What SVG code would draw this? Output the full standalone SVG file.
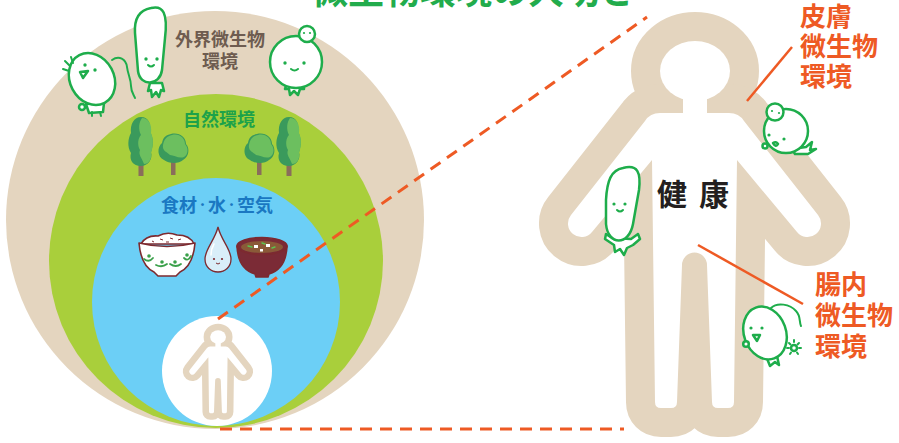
<svg xmlns="http://www.w3.org/2000/svg" xmlns:xlink="http://www.w3.org/1999/xlink" width="899" height="443" viewBox="0 0 899 443">
  <style>
    .jp { font-family: "Noto Sans CJK JP", "Noto Sans CJK SC", sans-serif; font-weight: 700; }
    .title { font-size: 36px; fill: #22ac4c; }
    .ring-label { font-size: 18px; }
    .side-label { font-size: 26px; fill: #ee5a24; }
    .dash { fill: none; stroke: #ee5a24; stroke-width: 3; stroke-dasharray: 12 8; }
    .lead { fill: none; stroke: #ee5a24; stroke-width: 2.5; }
    .mic { fill: #fff; stroke: #1ead4b; stroke-width: 2.5; stroke-linejoin: round; stroke-linecap: round; }
    .mic-line { fill: none; stroke: #1ead4b; stroke-width: 2; stroke-linecap: round; }
    .eye { fill: #1ead4b; }
    .dark { fill: #3a9a5c; }
    .light { fill: #6cbf5f; }
    .trunk { fill: #8a6d5b; }
    .bowl { stroke: #7d2a2f; stroke-width: 1.6; stroke-linejoin: round; }
  </style>

  <defs>
    <!-- inner silhouette of the person: head, neck, torso with arms and legs -->
    <g id="person-parts">
      <ellipse cx="695" cy="71" rx="35" ry="30"/>
      <rect x="683" y="95" width="24" height="22"/>
      <path d="M 683,113 L 660,113 Q 650,113 645,121 L 571,215 A 13.5 13.5 0 0 0 592,232 L 652,160
               L 655,402 Q 655,408 661,408 L 671,408 Q 677,408 677,402
               L 682,265 A 12.5 12.5 0 0 1 707,265
               L 712,402 Q 712,408 718,408 L 728,408 Q 734,408 734,402
               L 737,160 L 797,232 A 13.5 13.5 0 0 0 818,215 L 744,121 Q 739,113 729,113 L 707,113 Z"/>
    </g>
    <g id="person">
      <use xlink:href="#person-parts" href="#person-parts" fill="#e4d5bf" stroke="#e4d5bf" stroke-width="58" stroke-linejoin="round"/>
      <use xlink:href="#person-parts" href="#person-parts" fill="#ffffff"/>
    </g>
    <!-- tree shapes -->
    <g id="tall-tree">
      <rect class="trunk" x="-2.5" y="20" width="5" height="14"/>
      <path class="dark" d="M 0,-25 C 8,-25 10,-18 9,-10 C 13,-4 12,5 10,10 C 12,17 7,24 0,24 C -8,24 -12,18 -10,11 C -14,5 -13,-4 -10,-9 C -11,-18 -7,-25 0,-25 Z"/>
      <path class="light" d="M 1,-24 C 8,-24 11,-17 10,-9 C 13,-3 12,6 10,11 C 11,17 8,22 3,22 C 1,16 -3,13 -1,8 C -4,3 -3,-4 0,-7 C -3,-13 -2,-20 1,-24 Z"/>
    </g>
    <g id="round-tree">
      <rect class="trunk" x="-2" y="10" width="4.5" height="16"/>
      <path class="dark" d="M -2,-15 C 6,-17 13,-12 13,-5 C 17,-1 16,8 10,11 C 6,15 -4,15 -9,11 C -16,8 -16,-2 -11,-6 C -10,-12 -7,-14 -2,-15 Z"/>
      <path class="light" d="M -1,-14 C 6,-16 12,-11 12,-5 C 16,-1 15,6 11,8 C 6,10 1,6 -3,6 C -6,3 -11,2 -10,-4 C -9,-10 -6,-13 -1,-14 Z"/>
    </g>
  </defs>

  <!-- title -->
  <g id="title">
    <text class="jp title" x="312" y="4">微生物環境の大切さ</text>
  </g>

  <!-- nested environments -->
  <g id="outer-environment">
    <circle cx="215" cy="220" r="209" fill="#e4d5bf"/>
    <text class="jp ring-label" fill="#6e5c50" text-anchor="middle" x="220" y="46">外界微生物</text>
    <text class="jp ring-label" fill="#6e5c50" text-anchor="middle" x="220" y="68">環境</text>
  </g>
  <g id="natural-environment">
    <circle cx="216" cy="261" r="167" fill="#a9cf3b"/>
    <text class="jp ring-label" fill="#1da24a" text-anchor="middle" x="219" y="126">自然環境</text>
    <use xlink:href="#tall-tree" href="#tall-tree" x="141" y="142"/>
    <use xlink:href="#round-tree" href="#round-tree" x="173" y="149"/>
    <use xlink:href="#round-tree" href="#round-tree" x="259" y="149"/>
    <use xlink:href="#tall-tree" href="#tall-tree" x="289" y="142"/>
  </g>
  <g id="food-water-air">
    <circle cx="216" cy="302" r="124" fill="#6ccff6"/>
    <text class="jp ring-label" fill="#1a78c2" text-anchor="middle" x="217" y="212">食材<tspan font-size="11" dy="-3">・</tspan><tspan dy="3">水</tspan><tspan font-size="11" dy="-3">・</tspan><tspan dy="3">空気</tspan></text>
  </g>

  <!-- rice bowl -->
  <g id="rice-bowl">
    <path class="bowl" fill="#ffffff" d="M 141,244 Q 146,235 158,236 Q 167,231 177,235 Q 190,235 194,244 Z"/>
    <path class="bowl" fill="#ffffff" d="M 139,243 Q 167,250 195,243 Q 193,266 180,272 L 176,276 L 158,276 L 154,272 Q 141,266 139,243 Z"/>
    <path fill="none" stroke="#7d2a2f" stroke-width="1" d="M 160,239 l 3,1 M 170,238 l 3,1 M 178,240 l 3,-1 M 152,241 l 2,1 M 166,242 l 3,0"/>
    <g fill="none" stroke="#3aa04a" stroke-width="1.8" stroke-linecap="round">
      <path d="M 144,259 Q 149,263 153,258"/>
      <path d="M 156,265 Q 162,268 167,264"/>
      <path d="M 170,264 Q 176,268 181,264"/>
      <path d="M 184,258 Q 188,262 191,256"/>
    </g>
    <g fill="#3aa04a">
      <circle cx="149" cy="256" r="1.8"/>
      <circle cx="162" cy="262" r="1.8"/>
      <circle cx="175" cy="262" r="1.8"/>
      <circle cx="187" cy="255" r="1.8"/>
    </g>
  </g>

  <!-- water drop -->
  <g id="water-drop">
    <path fill="#d9eef9" stroke="#7d2a2f" stroke-width="1.3" d="M 218,227 C 215,240 205,249 205,259 C 205,267 211,272 218,272 C 225,272 231,267 231,259 C 231,249 221,240 218,227 Z"/>
    <path fill="none" stroke="#ffffff" stroke-width="1.5" stroke-linecap="round" d="M 211,255 Q 211,249 214,244"/>
    <circle cx="214" cy="259" r="1.1" fill="#7d2a2f"/>
    <circle cx="222" cy="259" r="1.1" fill="#7d2a2f"/>
    <path fill="none" stroke="#7d2a2f" stroke-width="1" d="M 216,263 Q 218,265 220,263"/>
  </g>

  <!-- miso soup -->
  <g id="miso-soup">
    <path class="bowl" fill="#7b2b36" d="M 237,246 Q 238,269 255,274 L 256,277 L 268,277 L 269,274 Q 286,269 287,246 Z"/>
    <ellipse class="bowl" cx="262" cy="246" rx="25" ry="8.5" fill="#7b2b36"/>
    <ellipse cx="262" cy="247" rx="21" ry="6" fill="#8a5a38"/>
    <g fill="#ffffff">
      <rect x="254" y="245" width="4" height="3"/>
      <rect x="266" y="244" width="4" height="3"/>
      <rect x="260" y="249" width="3" height="2.5"/>
    </g>
    <g fill="none" stroke="#5cc34f" stroke-width="1.4" stroke-linecap="round">
      <path d="M 248,246 l 4,1"/>
      <path d="M 272,248 l 3,-1"/>
      <path d="M 262,243 l 3,1"/>
    </g>
  </g>

  <!-- the person inside the smallest circle -->
  <g id="person-small">
    <circle cx="217" cy="371" r="55" fill="#ffffff"/>
    <use xlink:href="#person" href="#person" transform="translate(61 321) scale(0.226)"/>
  </g>

  <!-- microbes in the outer environment -->
  <g id="microbe-flagellum">
    <path class="mic-line" stroke-width="2.5" d="M 112,60 C 119,55 126,59 127,67 C 128,75 131,79 131,86 C 131,92 134,95 135,98"/>
    <path class="mic" d="M 86,104 L 89,113 L 103,112 L 104,103 Z"/>
    <path class="mic-line" d="M 92,112 l 0,4 M 100,112 l 1,4"/>
    <circle class="mic" cx="82" cy="107" r="3"/>
    <ellipse class="mic" cx="92" cy="79" rx="22" ry="27" transform="rotate(-28 92 79)"/>
    <circle class="eye" cx="85" cy="65" r="1.7"/>
    <circle class="eye" cx="95" cy="70" r="1.7"/>
    <path class="mic" stroke-width="2" d="M 80,72 L 88,71 L 83,78 Z"/>
    <path class="mic-line" d="M 63,69 l 6,2 M 65,61 l 5,5 M 71,57 l 2,6"/>
  </g>
  <g id="microbe-tall">
    <path class="mic" d="M 150,83 L 148,91 L 151,90 L 152,97 L 156,92 L 159,97 L 161,90 L 164,91 L 162,83 Z"/>
    <path class="mic" d="M 151,8 C 163,5 168,13 165,38 L 162,70 C 160,86 140,87 138,71 L 135,33 C 134,17 140,10 151,8 Z"/>
    <circle class="eye" cx="146" cy="59" r="1.7"/>
    <circle class="eye" cx="157" cy="59" r="1.7"/>
    <path class="mic-line" d="M 148,65 Q 151,68 154,65"/>
  </g>
  <g id="microbe-round">
    <path class="mic" d="M 287,83 L 285,89 L 289,89 L 290,95 L 294,91 L 298,95 L 300,89 L 304,89 L 304,83 Z"/>
    <circle class="mic" cx="296" cy="62" r="26"/>
    <circle class="mic" cx="307" cy="34" r="8"/>
    <circle class="eye" cx="304" cy="33" r="1.1"/>
    <circle class="eye" cx="310" cy="33" r="1.1"/>
    <circle class="eye" cx="285" cy="63" r="1.7"/>
    <circle class="eye" cx="304" cy="63" r="1.7"/>
    <path class="mic-line" d="M 291,69 Q 294.5,72 298,69"/>
  </g>

  <!-- large person: health -->
  <g id="person-large">
    <use xlink:href="#person" href="#person"/>
    <text class="jp" font-size="30" fill="#231f20" x="657" y="205" letter-spacing="12">健康</text>
  </g>

  <!-- microbes on the large person -->
  <g id="microbe-skin">
    <path class="mic" d="M 792,149 L 806,147 L 812,142 L 810,150 L 816,149 L 808,154 L 795,154 Z"/>
    <circle class="mic" cx="786" cy="131" r="22"/>
    <circle class="mic" cx="775" cy="112" r="8.5"/>
    <circle class="eye" cx="772" cy="111" r="1.1"/>
    <circle class="eye" cx="779" cy="113" r="1.1"/>
    <circle class="eye" cx="769" cy="135" r="1.6"/>
    <circle class="eye" cx="784" cy="139" r="1.6"/>
    <path class="mic" stroke-width="1.8" d="M 773,143 Q 776,141 778,144 Q 776,148 773,143 Z"/>
    <circle class="mic" cx="765" cy="146" r="2.5"/>
  </g>
  <g id="microbe-arm">
    <path class="mic" d="M 612,238 L 606,234 L 605,239 L 614,245 L 615,252 L 620,249 L 624,255 L 627,248 L 633,245 L 640,239 L 638,234 L 631,239 Z"/>
    <path class="mic" d="M 623,168 C 638,164 641,173 639,190 L 633,224 C 629,246 608,246 606,224 L 606,200 C 607,181 611,170 623,168 Z"/>
    <circle class="eye" cx="614" cy="204" r="1.6"/>
    <circle class="eye" cx="625" cy="204" r="1.6"/>
    <path class="mic-line" d="M 617,210 Q 620,213 623,210"/>
  </g>
  <g id="microbe-gut">
    <path class="mic-line" stroke-width="2.5" d="M 771,308 C 777,302 790,304 796,311 C 801,316 799,322 801,326"/>
    <path class="mic" d="M 766,356 L 770,366 L 775,362 L 779,365 L 777,356 Z"/>
    <ellipse class="mic" cx="765" cy="333" rx="21" ry="27" transform="rotate(-20 765 333)"/>
    <circle class="mic" cx="746" cy="344" r="2.8"/>
    <circle class="eye" cx="751" cy="328" r="1.6"/>
    <circle class="eye" cx="762" cy="328" r="1.6"/>
    <path class="mic" stroke-width="1.8" d="M 753,335 L 760,335 L 757,341 Z"/>
    <circle class="mic" stroke-width="1.8" cx="794" cy="348" r="3"/>
    <path class="mic-line" stroke-width="1.5" d="M 794,340 l 0,2 M 787,348 l 2,0 M 799,348 l 2,0 M 789,343 l 1.5,1.5 M 799,343 l -1.5,1.5 M 790,354 l 1,-1.5 M 798,354 l -1,-1.5"/>
  </g>

  <!-- connectors -->
  <g id="connectors">
    <path class="dash" d="M 218,319 L 647,17"/>
    <path class="dash" d="M 220,429 L 624,429"/>
    <path class="lead" d="M 792,47 L 747,101"/>
    <path class="lead" d="M 698,245 L 803,304"/>
  </g>

  <!-- labels -->
  <g id="skin-label">
    <text class="jp side-label" x="800" y="26">皮膚</text>
    <text class="jp side-label" x="800" y="56">微生物</text>
    <text class="jp side-label" x="800" y="86">環境</text>
  </g>
  <g id="gut-label">
    <text class="jp side-label" x="815" y="294">腸内</text>
    <text class="jp side-label" x="815" y="325">微生物</text>
    <text class="jp side-label" x="815" y="356">環境</text>
  </g>
</svg>
